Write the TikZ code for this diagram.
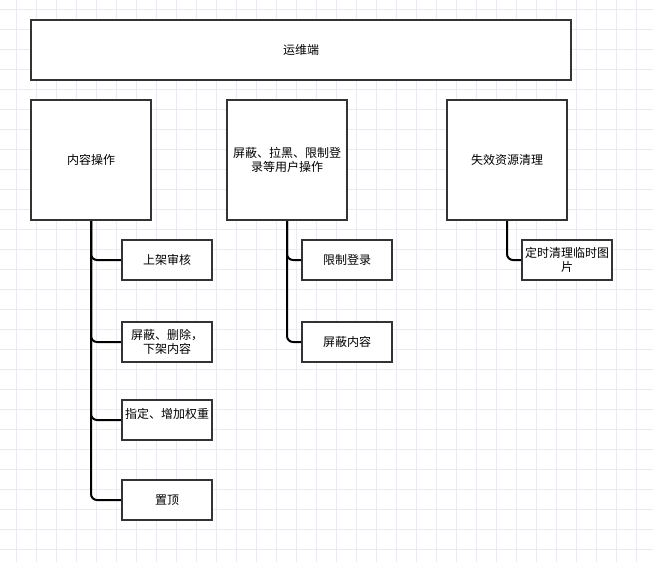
\documentclass[tikz,border=0pt]{standalone}
\usepackage{fontspec}
\setmainfont{Noto Sans CJK SC}
\definecolor{boxc}{HTML}{333333}
\definecolor{gridc}{RGB}{234,234,242}
\begin{document}
\begin{tikzpicture}[x=1pt,y=-1pt,
  box/.style={draw=boxc, line width=2pt, fill=white, anchor=north west,
    inner sep=2pt, align=center, font=\fontsize{12pt}{14pt}\selectfont},
  bigbox/.style={box, minimum width=120pt, minimum height=120pt},
  leaf/.style={box, minimum width=90pt, minimum height=40pt},
  conn/.style={draw=black, line width=2pt, rounded corners=6pt}]
\useasboundingbox (0,0) rectangle (653,562);
\fill[white] (0,0) rectangle (653,562);
\foreach \gx in {16,36,...,652} \draw[gridc, line width=0.8pt] (\gx,0) -- (\gx,562);
\foreach \gy in {9,29,...,561} \draw[gridc, line width=0.8pt] (0,\gy) -- (653,\gy);

\node[box, minimum width=540pt, minimum height=60pt] (top) at (30,19) {运维端};

\node[bigbox] (A) at (30,99) {内容操作};
\node[bigbox] (B) at (226,99) {屏蔽、拉黑、限制登\\录等用户操作};
\node[bigbox] (C) at (446,99) {失效资源清理};

\node[leaf] (a1) at (121,239) {上架审核};
\node[leaf] (a2) at (121,321) {屏蔽、删除，\\下架内容};
\node[leaf] (a3) at (121,399) {指定、增加权重\\\mbox{}};
\node[leaf] (a4) at (121,479) {置顶};

\node[leaf] (b1) at (301,239) {限制登录};
\node[leaf] (b2) at (301,321) {屏蔽内容};

\node[leaf] (c1) at (521,239) {定时清理临时图\\片};

\draw[conn] (A.south) |- (a1.west);
\draw[conn] (A.south) |- (a2.west);
\draw[conn] (A.south) |- (a3.west);
\draw[conn] (A.south) |- (a4.west);
\draw[conn] (B.south) |- (b1.west);
\draw[conn] (B.south) |- (b2.west);
\draw[conn] (C.south) |- (c1.west);
\end{tikzpicture}
\end{document}
